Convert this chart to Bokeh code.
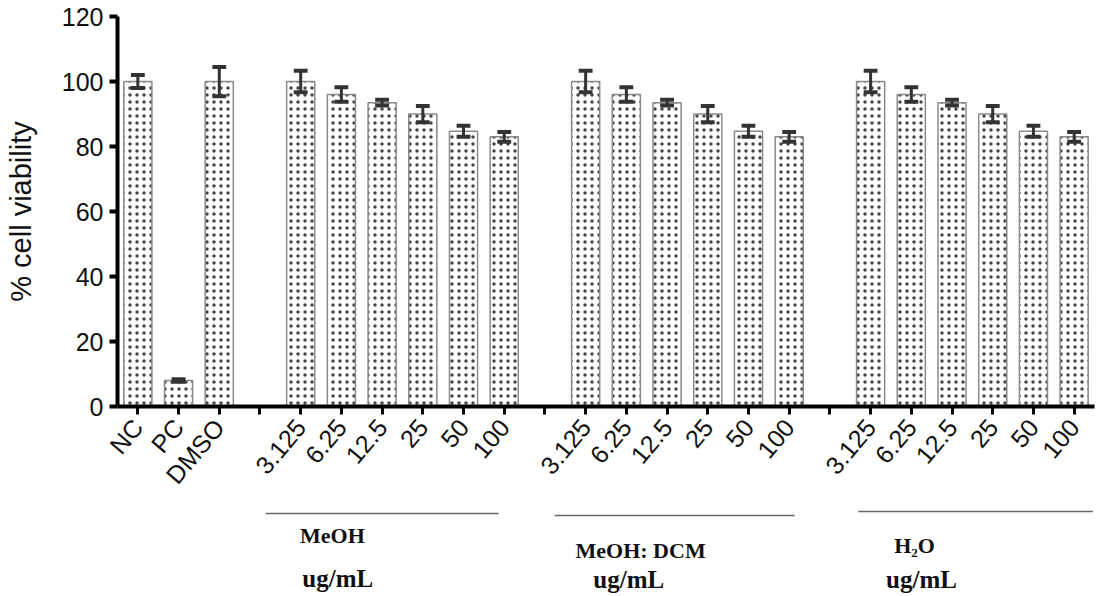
from bokeh.plotting import figure
from bokeh.layouts import column
from bokeh.models import ColumnDataSource, FactorRange, Range1d, FixedTicker
from bokeh.core.properties import value
from bokeh.embed import file_html
from bokeh.resources import INLINE

# Controls
controls = ["NC", "PC", "DMSO"]
control_values = [100.0, 8.0, 100.0]
control_errors = [2.0, 0.4, 4.5]

# Extract concentrations (ug/mL)
doses = ["3.125", "6.25", "12.5", "25", "50", "100"]
extracts = ["MeOH", "MeOH: DCM", "H\u2082O"]
unit = "ug/mL"

meoh_values = [100.0, 96.0, 93.5, 90.0, 84.7, 83.0]
meoh_errors = [3.3, 2.2, 0.9, 2.5, 1.7, 1.5]
dcm_values = [100.0, 96.0, 93.5, 90.0, 84.7, 83.0]
dcm_errors = [3.3, 2.2, 0.9, 2.5, 1.7, 1.5]
h2o_values = [100.0, 96.0, 93.5, 90.0, 84.7, 83.0]
h2o_errors = [3.3, 2.2, 0.9, 2.5, 1.7, 1.5]

y_ticks = [0, 20, 40, 60, 80, 100, 120]

# Category axis: controls, then an unlabeled slot before each extract group.
# Repeated dose labels are kept distinct with trailing zero-width spaces.
ZW = "\u200b"
factors = list(controls)
bar_factors = list(controls)
values = list(control_values)
errors = list(control_errors)
for k, (vals, errs) in enumerate(zip([meoh_values, dcm_values, h2o_values],
                                     [meoh_errors, dcm_errors, h2o_errors])):
    factors.append(" " * (k + 1))
    for d, v, e in zip(doses, vals, errs):
        key = d + ZW * k
        factors.append(key)
        bar_factors.append(key)
        values.append(v)
        errors.append(e)

src = ColumnDataSource(dict(
    x=bar_factors,
    top=values,
    hi=[v + e for v, e in zip(values, errors)],
    lo=[v - e for v, e in zip(values, errors)],
))

p = figure(
    x_range=FactorRange(*factors, range_padding=0),
    y_range=Range1d(0, 120),
    width=1097, height=500,
    min_border_left=117, min_border_right=3, min_border_top=16, min_border_bottom=93,
    output_backend="svg", toolbar_location=None,
)
p.outline_line_color = None
p.grid.grid_line_color = None
p.background_fill_color = "white"

# Stippled bars
p.vbar(x="x", top="top", width=0.69, source=src,
       fill_color="white", line_color="#8a8a8a", line_width=1.5,
       hatch_pattern="dot", hatch_color="#444444", hatch_scale=7, hatch_weight=1.7)

# Error bars
err_color = "#333333"
p.segment(x0="x", y0="lo", x1="x", y1="hi", source=src, line_color=err_color, line_width=3)
p.rect(x="x", y="hi", width=0.34, height=4, height_units="screen", source=src,
       fill_color=err_color, line_color=None)
p.rect(x="x", y="lo", width=0.34, height=4, height_units="screen", source=src,
       fill_color=err_color, line_color=None)

# Axes
sans = "Liberation Sans"
p.yaxis.ticker = FixedTicker(ticks=y_ticks)
p.yaxis.axis_label = "% cell viability"
p.yaxis.axis_label_text_font = sans
p.yaxis.axis_label_text_font_style = "normal"
p.yaxis.axis_label_text_font_size = "29px"
p.yaxis.axis_label_text_color = "#111111"
p.yaxis.axis_label_standoff = 22
p.yaxis.major_label_text_font = sans
p.yaxis.major_label_text_font_size = "25px"
p.yaxis.major_label_text_color = "#111111"
p.yaxis.major_label_standoff = 6
p.yaxis.minor_tick_line_color = None

p.xaxis.major_label_orientation = 0.87
p.xaxis.major_label_text_font = sans
p.xaxis.major_label_text_font_size = "25px"
p.xaxis.major_label_text_color = "#111111"
p.xaxis.major_label_standoff = 8

for ax in (p.xaxis, p.yaxis):
    ax.axis_line_width = 4
    ax.axis_line_color = "black"
    ax.major_tick_line_width = 4
    ax.major_tick_line_color = "black"
    ax.major_tick_out = 8
    ax.major_tick_in = 0
p.xaxis.major_tick_line_width = 3

# Caption strip beneath the dose labels: x shares the category slots (0..24),
# y runs downward in pixels from the top of the page.
cap = figure(
    x_range=Range1d(0, len(factors)), y_range=Range1d(596, 500),
    width=1097, height=96,
    min_border_left=117, min_border_right=3, min_border_top=0, min_border_bottom=0,
    x_axis_location=None, y_axis_location=None,
    output_backend="svg", toolbar_location=None,
)
cap.outline_line_color = None
cap.grid.grid_line_color = None

rule_x0 = [3.64, 10.74, 18.2]
rule_x1 = [9.36, 16.63, 23.96]
rule_y = [513, 515, 511]
name_x = [5.28, 12.85, 19.58]
name_y = [535, 550, 545]
unit_x = [5.41, 12.56, 19.75]
unit_y = [578, 579, 579]

cap.segment(x0=rule_x0, y0=rule_y, x1=rule_x1, y1=rule_y, line_color="#666666", line_width=1.5)
serif = value("Liberation Serif")
cap.text(x=name_x, y=name_y, text=extracts, text_font=serif, text_font_style="bold",
         text_font_size="22px", text_align="center", text_baseline="middle", text_color="#111111")
cap.text(x=unit_x, y=unit_y, text=[unit] * 3, text_font=serif, text_font_style="bold",
         text_font_size="25px", text_align="center", text_baseline="middle", text_color="#111111")

open("out.html", "w").write(file_html(column(p, cap, spacing=0), INLINE))
